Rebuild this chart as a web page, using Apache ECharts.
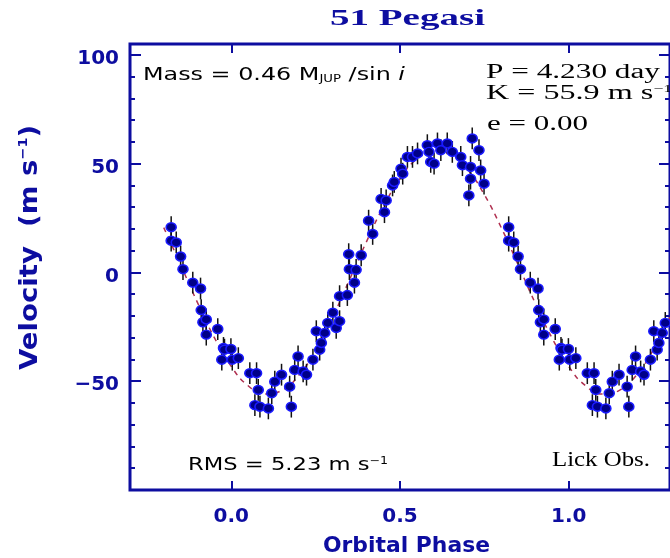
<!DOCTYPE html>
<html>
<head>
<meta charset="utf-8">
<script src="https://cdn.jsdelivr.net/npm/echarts@6/dist/echarts.min.js"></script>
<style>html,body{margin:0;padding:0;background:#fff}#c{width:670px;height:558px}</style>
</head>
<body>
<div id="c"></div>
<script>
// ---- data (orbital phase 0..1, velocity m/s) ----
const PHASE = [0.003,0.021,0.055,0.070,0.075,0.080,0.085,0.110,0.120,0.129,0.149,0.173,0.178,0.188,0.198,0.213,0.223,0.242,0.252,0.262,0.267,0.277,0.286,0.301,0.311,0.321,0.321,0.344,0.348,0.350,0.365,0.370,0.385,0.407,0.419,0.444,0.454,0.459,0.478,0.483,0.503,0.508,0.522,0.537,0.552,0.581,0.586,0.591,0.601,0.611,0.621,0.640,0.655,0.680,0.685,0.704,0.709,0.709,0.714,0.734,0.739,0.749,0.822,0.822,0.837,0.850,0.857,0.886,0.909,0.911,0.916,0.926,0.926,0.960,0.972,0.977,0.980,0.999];
const VEL = [-40.1,-39.4,-46.3,-61.0,-46.3,-54.0,-61.7,-62.5,-55.5,-50.2,-47.0,-52.5,-61.7,-44.8,-38.6,-45.5,-47.0,-40.1,-27.0,-35.5,-32.4,-27.8,-23.2,-18.5,-25.5,-22.4,-10.9,-10.4,8.4,1.5,-4.7,1.2,7.9,23.8,17.7,33.8,27.7,33.1,40.0,41.6,47.7,45.4,53.1,53.1,54.7,58.5,55.4,50.8,50.0,59.3,56.2,59.3,55.4,53.1,49.3,35.4,48.5,43.1,61.6,56.2,46.9,40.8,20.8,14.6,13.8,7.3,1.5,-4.7,-7.4,-17.3,-22.9,-21.6,-28.6,-26.0,-40.1,-34.7,-35.5,-35.2];
const ERR = 5; // error bar half-length, m/s
const PHASE_SHOWN = [-0.2, 1.3];
// dashed fitted curve
const CURVE_PHASE = [-0.2,-0.15,-0.1,-0.05,0,0.05,0.1,0.15,0.2,0.25,0.3,0.35,0.4,0.45,0.5,0.55,0.6,0.65,0.7,0.75,0.8,0.85,0.9,0.95,1.0,1.05,1.1,1.15,1.2,1.25,1.3];
const CURVE_VEL = [20.6,3.5,-13.9,-30.0,-43.2,-52.1,-55.9,-54.2,-47.3,-35.7,-20.6,-3.5,13.9,30.0,43.2,52.1,55.9,54.2,47.3,35.7,20.6,3.5,-13.9,-30.0,-43.2,-52.1,-55.9,-54.2,-47.3,-35.7,-20.6];
// axes
const X_RANGE = [-0.3, 1.3];
const Y_RANGE = [-100, 105];
const X_TICKS = [0, 0.5, 1.0];
const Y_MAJOR = [-100, -50, 0, 50, 100];
const Y_LABELS = [-50, 0, 50, 100];
const Y_MINOR = [-90,-80,-70,-60,-40,-30,-20,-10,10,20,30,40,60,70,80,90];

const BLUE = '#0d0da0';

const pts = [], bars = [];
PHASE.forEach((p, i) => {
  [p - 1, p, p + 1].forEach(q => {
    if (q >= PHASE_SHOWN[0] && q <= PHASE_SHOWN[1]) {
      pts.push([q, VEL[i]]);
      bars.push([q, VEL[i] - ERR, VEL[i] + ERR]);
    }
  });
});
const curve = CURVE_PHASE.map((p, i) => [p, CURVE_VEL[i]]);

// ---- text helpers (stretch text to the reference width) ----
const mctx = document.createElement('canvas').getContext('2d');
function measure(t, font) { mctx.font = font; return mctx.measureText(t).width; }
function textEl(spec) {
  const rich = {}; let str = ''; let total = 0;
  spec.parts.forEach((pt, i) => {
    const key = 'p' + i;
    rich[key] = {
      fontSize: pt.size, fontFamily: pt.family, fontWeight: pt.weight || 'normal',
      fontStyle: pt.style || 'normal', fill: spec.color, color: spec.color,
      verticalAlign: pt.va || 'middle'
    };
    str += '{' + key + '|' + pt.t + '}';
    total += measure(pt.t, (pt.style || 'normal') + ' ' + (pt.weight || 'normal') + ' ' + pt.size + 'px "' + pt.family + '"');
  });
  return {
    type: 'text', x: spec.x, y: spec.y, rotation: spec.rot || 0,
    scaleX: spec.width / total, silent: true, z: 20,
    style: { text: str, rich: rich, x: 0, y: 0, align: 'left', verticalAlign: 'middle',
             textAlign: 'left', textVerticalAlign: 'middle', fill: spec.color }
  };
}
const SANS = 'DejaVu Sans', SERIF = 'Liberation Serif';
const texts = [
  { parts: [{ t: '51 Pegasi', size: 24, family: SERIF, weight: 'bold' }], x: 330, y: 19, width: 155, color: BLUE },
  { parts: [{ t: 'Mass = 0.46 M', size: 18, family: SANS }, { t: 'JUP', size: 10, family: SANS, va: 'bottom' },
            { t: ' /sin ', size: 18, family: SANS }, { t: 'i', size: 18, family: SANS, style: 'italic' }],
    x: 143, y: 75, width: 262, color: '#000' },
  { parts: [{ t: 'P = 4.230 day', size: 20, family: SERIF }], x: 486, y: 73, width: 174, color: '#000' },
  { parts: [{ t: 'K = 55.9 m s', size: 20, family: SERIF }, { t: '\u22121', size: 11, family: SERIF, va: 'top' }],
    x: 486, y: 94, width: 186, color: '#000' },
  { parts: [{ t: 'e = 0.00', size: 20, family: SERIF }], x: 487, y: 125, width: 101, color: '#000' },
  { parts: [{ t: 'RMS = 5.23 m s', size: 18, family: SANS }, { t: '\u22121', size: 10, family: SANS, va: 'top' }],
    x: 188, y: 465, width: 200, color: '#000' },
  { parts: [{ t: 'Lick Obs.', size: 20, family: SERIF }], x: 552, y: 461, width: 98, color: '#000' },
  { parts: [{ t: 'Orbital Phase', size: 21, family: SANS, weight: 'bold' }], x: 323, y: 546.5, width: 167, color: BLUE },
  { parts: [{ t: 'Velocity  (m s', size: 25, family: SANS, weight: 'bold' }, { t: '\u22121', size: 13, family: SANS, weight: 'bold', va: 'top' },
            { t: ')', size: 25, family: SANS, weight: 'bold' }],
    x: 30, y: 370, width: 245, rot: Math.PI / 2, color: BLUE }
];

const tickStyle = { color: BLUE, width: 2 };
const labelFont = { color: BLUE, fontSize: 20, fontFamily: SANS, fontWeight: 'bold' };
function yAxis(pos, vals, len, labels) {
  return {
    type: 'value', position: pos, min: Y_RANGE[0], max: Y_RANGE[1],
    axisLine: { show: false, onZero: false }, splitLine: { show: false },
    axisTick: { show: true, inside: true, length: len, lineStyle: tickStyle, customValues: vals },
    axisLabel: labels ? Object.assign({ show: true, margin: 11, customValues: Y_LABELS,
      verticalAlign: 'top', lineHeight: 8,
      formatter: v => (v < 0 ? '\u2212' + (-v) : String(v)) }, labelFont) : { show: false }
  };
}
function xAxis(pos, labels) {
  return {
    type: 'value', position: pos, min: X_RANGE[0], max: X_RANGE[1],
    axisLine: { show: false, onZero: false }, splitLine: { show: false },
    axisTick: { show: true, inside: true, length: 9, lineStyle: tickStyle, customValues: X_TICKS },
    axisLabel: labels ? Object.assign({ show: true, margin: 17, customValues: X_TICKS,
      formatter: v => v.toFixed(1) }, labelFont) : { show: false }
  };
}

const chart = echarts.init(document.getElementById('c'), null, { renderer: 'canvas' });
chart.setOption({
  animation: false,
  backgroundColor: '#fff',
  grid: { left: 130, top: 44, width: 542, height: 446, show: true, borderColor: BLUE, borderWidth: 3, backgroundColor: 'transparent' },
  xAxis: [xAxis('bottom', true), xAxis('top', false)],
  yAxis: [yAxis('left', Y_MAJOR, 11, true), yAxis('left', Y_MINOR, 5, false),
          yAxis('right', Y_MAJOR, 11, false), yAxis('right', Y_MINOR, 5, false)],
  graphic: texts.map(textEl),
  series: [
    { type: 'line', data: curve, xAxisIndex: 0, yAxisIndex: 0, smooth: true, showSymbol: false, symbol: 'none',
      lineStyle: { color: '#b03050', width: 1.5, type: [5, 5] }, z: 1, silent: true },
    { type: 'custom', data: bars, xAxisIndex: 0, yAxisIndex: 0, z: 2, silent: true,
      renderItem: (params, api) => {
        const a = api.coord([api.value(0), api.value(1)]);
        const b = api.coord([api.value(0), api.value(2)]);
        return { type: 'line', shape: { x1: a[0], y1: a[1], x2: b[0], y2: b[1] }, style: { stroke: '#111', lineWidth: 1.5 } };
      } },
    { type: 'scatter', data: pts, xAxisIndex: 0, yAxisIndex: 0, z: 3, silent: true,
      symbol: 'circle', symbolSize: [10, 9],
      itemStyle: { color: '#000088', borderColor: '#1a1aff', borderWidth: 1.5, opacity: 1 } }
  ]
});
</script>
</body>
</html>
